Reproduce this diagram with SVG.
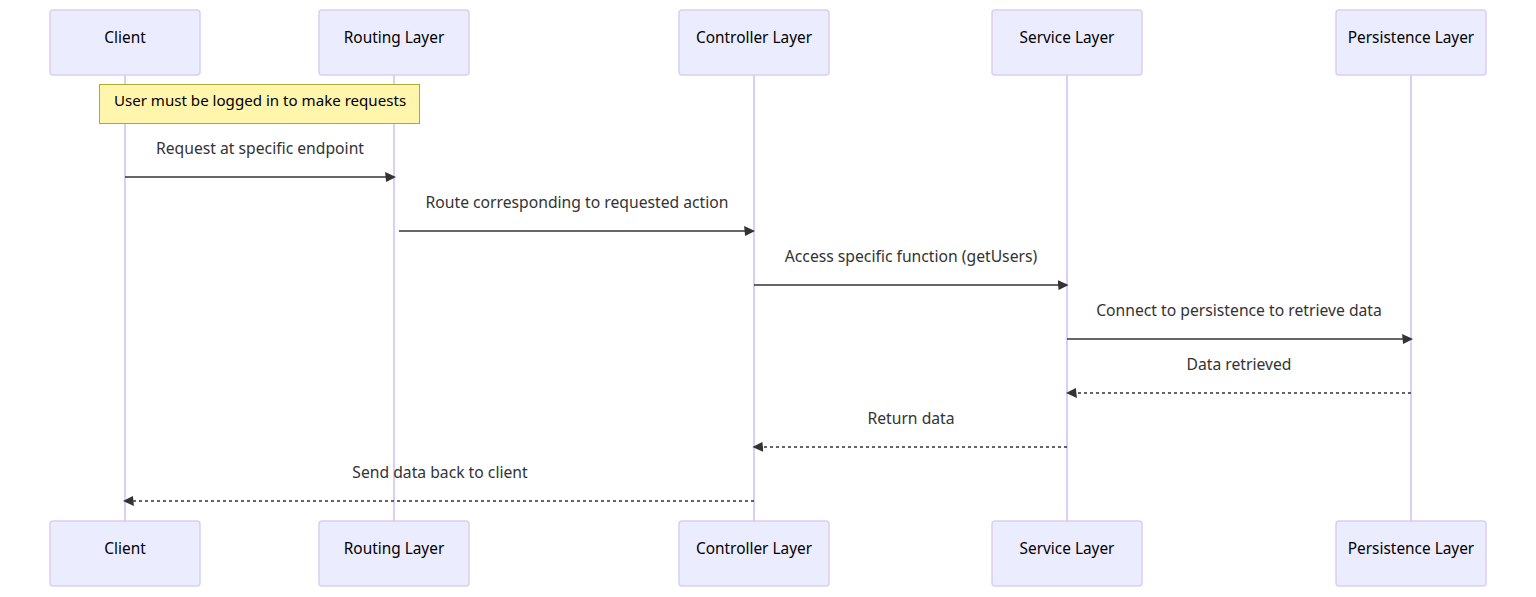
<svg xmlns="http://www.w3.org/2000/svg" width="1536" height="597" viewBox="0 0 1536 597">
<style>
.actor{fill:#ECECFF;stroke:#DACEF3;stroke-width:1.5}
.atext{font-family:"Noto Sans","DejaVu Sans",sans-serif;font-size:15.4px;fill:#000;text-anchor:middle}
.life{stroke:#DACEF3;stroke-width:2}
.msg{stroke:#333;stroke-width:1.6;fill:none}
.dash{stroke-dasharray:3,3}
.mtext{font-family:"Noto Sans","DejaVu Sans",sans-serif;font-size:15.7px;fill:#333;text-anchor:middle}
.note{fill:#FFF5AD;stroke:#AAAA33;stroke-width:1}
.ntext{font-family:"Noto Sans","DejaVu Sans",sans-serif;font-size:15.1px;fill:#000;text-anchor:middle}
</style>
<defs>
<marker id="ah" viewBox="-1 0 11 10" refX="7.9" refY="5" markerWidth="11" markerHeight="10" markerUnits="userSpaceOnUse" orient="auto"><path d="M -1 0 L 10 5 L 0 10 z" fill="#333"/></marker>
</defs>
<g id="lifelines">
<line class="life" x1="125" y1="75" x2="125" y2="521"/>
<line class="life" x1="394" y1="75" x2="394" y2="521"/>
<line class="life" x1="754" y1="75" x2="754" y2="521"/>
<line class="life" x1="1067" y1="75" x2="1067" y2="521"/>
<line class="life" x1="1411" y1="75" x2="1411" y2="521"/>
</g>
<g id="client">
<rect class="actor" x="50" y="10" width="150" height="65" rx="3"/><text class="atext" x="125" y="42.5">Client</text>
<rect class="actor" x="50" y="521" width="150" height="65" rx="3"/><text class="atext" x="125" y="553.5">Client</text>
</g>
<g id="routing">
<rect class="actor" x="319" y="10" width="150" height="65" rx="3"/><text class="atext" x="394" y="42.5">Routing Layer</text>
<rect class="actor" x="319" y="521" width="150" height="65" rx="3"/><text class="atext" x="394" y="553.5">Routing Layer</text>
</g>
<g id="controller">
<rect class="actor" x="679" y="10" width="150" height="65" rx="3"/><text class="atext" x="754" y="42.5">Controller Layer</text>
<rect class="actor" x="679" y="521" width="150" height="65" rx="3"/><text class="atext" x="754" y="553.5">Controller Layer</text>
</g>
<g id="service">
<rect class="actor" x="992" y="10" width="150" height="65" rx="3"/><text class="atext" x="1067" y="42.5">Service Layer</text>
<rect class="actor" x="992" y="521" width="150" height="65" rx="3"/><text class="atext" x="1067" y="553.5">Service Layer</text>
</g>
<g id="persistence">
<rect class="actor" x="1336" y="10" width="150" height="65" rx="3"/><text class="atext" x="1411" y="42.5">Persistence Layer</text>
<rect class="actor" x="1336" y="521" width="150" height="65" rx="3"/><text class="atext" x="1411" y="553.5">Persistence Layer</text>
</g>
<g id="note">
<rect class="note" x="99.5" y="84.5" width="320" height="39"/>
<text class="ntext" x="260" y="106">User must be logged in to make requests</text>
</g>
<g id="connectors">
<line class="msg" x1="125" y1="177" x2="394" y2="177" marker-end="url(#ah)"/>
<text class="mtext" x="260" y="154">Request at specific endpoint</text>
<line class="msg" x1="399" y1="231" x2="753" y2="231" marker-end="url(#ah)"/>
<text class="mtext" x="577" y="208">Route corresponding to requested action</text>
<line class="msg" x1="754" y1="285" x2="1066.5" y2="285" marker-end="url(#ah)"/>
<text class="mtext" x="911" y="262">Access specific function (getUsers)</text>
<line class="msg" x1="1067" y1="339" x2="1411" y2="339" marker-end="url(#ah)"/>
<text class="mtext" x="1239" y="316">Connect to persistence to retrieve data</text>
<line class="msg dash" x1="1411" y1="393" x2="1068" y2="393" marker-end="url(#ah)"/>
<text class="mtext" x="1239" y="370">Data retrieved</text>
<line class="msg dash" x1="1067" y1="447" x2="754.5" y2="447" marker-end="url(#ah)"/>
<text class="mtext" x="911" y="424">Return data</text>
<line class="msg dash" x1="754" y1="501" x2="125" y2="501" marker-end="url(#ah)"/>
<text class="mtext" x="440" y="478">Send data back to client</text>
</g>
</svg>
